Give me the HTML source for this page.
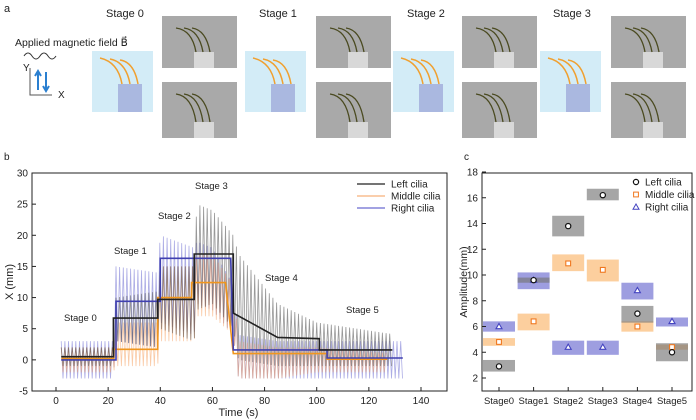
<!DOCTYPE html>
<html><head><meta charset="utf-8"><style>
body{margin:0;background:#fff}
svg{display:block;font-family:"Liberation Sans",sans-serif}
</style></head><body>
<svg id="fig" width="696" height="420" viewBox="0 0 696 420">
<!-- Panel a -->
<g id="pa" font-size="11" fill="#222">
<text x="4" y="12">a</text>
<text x="106" y="17">Stage 0</text>
<text x="259" y="17">Stage 1</text>
<text x="407" y="17">Stage 2</text>
<text x="553" y="17">Stage 3</text>
<text x="15" y="46" font-size="10.5">Applied magnetic field B⃗</text>
<path d="M24,56 q4,-6 8,0 t8,0 t8,0 t8,0" stroke="#333" fill="none"/>
<path d="M30,68 V95 H52" stroke="#555" fill="none"/>
<text x="23" y="71" font-size="10">Y</text><text x="58" y="98" font-size="10">X</text>
<path d="M38,90 V72 M35,76 L38,71 L41,76 M46,72 V90 M43,86 L46,91 L49,86" stroke="#2a7fd0" stroke-width="2" fill="none"/>
</g>
<g id="schem"></g>
<g id="photos"></g>
<!-- Panel b -->
<g font-size="10" fill="#222">
<text x="4" y="160">b</text>
<text x="464" y="160">c</text>
</g>
<g id="pb"></g>
<g id="pc"></g>
</svg>
<script>
const NS="http://www.w3.org/2000/svg";
function mk(p,tag,attrs){const e=document.createElementNS(NS,tag);for(const k in attrs)e.setAttribute(k,attrs[k]);p.appendChild(e);return e;}

// ---------- panel a (illustrative blocks) ----------
const schemX=[92,245,393,540];
const photoX=[162,316,462,611];
const sg=document.getElementById('schem');
schemX.forEach((x,i)=>{
  const r=mk(sg,'rect',{x:x,y:51,width:61,height:61,fill:'#d3ecf7'});
  
  
  mk(sg,'rect',{x:x+26,y:84,width:24,height:28,fill:'#aab8e0'});
  for(let k=0;k<3;k++){mk(sg,'path',{d:`M${x+30+k*8},84 Q${x+26+k*8},62 ${x+8+k*10},${58+k}`,stroke:'#f0a030','stroke-width':1.5,fill:'none'});}
});
const pg=document.getElementById('photos');
photoX.forEach((x,i)=>{
  [16,82].forEach((y,j)=>{
    const r=mk(pg,'rect',{x:x,y:y,width:75,height:j?56:52,fill:'#a9a9a9'});
    
    
    mk(pg,'rect',{x:x+32,y:y+(j?40:36),width:20,height:16,fill:'#d8d8d8'});
    for(let k=0;k<3;k++)mk(pg,'path',{d:`M${x+34+k*7},${y+(j?40:36)} Q${x+30+k*7},${y+14} ${x+14+k*8},${y+12}`,stroke:'#4a4a20','stroke-width':1.3,fill:'none'});
  });
});

// ---------- panel b data ----------
const stepT_left=[2,22,22,39,39,53,53,68,68,85,101,101,129];
const stepY_left=[0.5,0.5,6.7,6.7,9.7,9.7,17,17,7.5,3.6,3.4,1.6,1.6];
const stepT_mid=[2,22,22,39,39,52,52,65,68,104,104,127];
const stepY_mid=[0.2,0.2,1.7,1.7,10,10,12.4,12.4,1,1,0.1,0.1];
const stepT_right=[2,23,23,40,40,67,68,104,104,133];
const stepY_right=[0,0,9.4,9.4,16.3,16.3,1.6,1.6,0.3,0.3];
const envT=[2,22,23,39,40,53,54,60,68,70,85,100,131];
const envUp_left=[2,2,10,11,15,15,25,24,20,17,9,6,4];
const envLo_left=[-1,-1,3,2,5,3,8,9,5,0,-1,-1,-1];
const envUp_mid=[2,2,6,6,15,15,17,17,12,3,2,2,1];
const envLo_mid=[-2,-2,-1,-1,3,3,7,7,4,-3,-3,-2,-2];
const envUp_right=[3,3,15,14,20,18,19,18,12,4,3,3,3];
const envLo_right=[-3,-3,3,2,6,4,9,8,4,-3,-3,-3,-3];
const xTicks=[0,20,40,60,80,100,120,140];
const yTicks=[-5,0,5,10,15,20,25,30];

const bx=t=>56+t*(421-56)/140;
const by=v=>173+(30-v)*(391-173)/35;
function interp(ts,vs,t){for(let i=1;i<ts.length;i++){if(t<=ts[i]){const a=ts[i-1],b=ts[i];return b===a?vs[i]:vs[i-1]+(vs[i]-vs[i-1])*(t-a)/(b-a);}}return vs[vs.length-1];}
const pb=document.getElementById('pb');
mk(pb,'rect',{x:32,y:173,width:415,height:218,fill:'none',stroke:'#222','stroke-width':1});
function osc(up,lo,color,name,t1){
  let d='';let k=0;
  for(let t=2;t<=t1;t+=0.7){const v=(k%2?interp(envT,lo,t):interp(envT,up,t));d+=(k?'L':'M')+bx(t).toFixed(1)+','+by(v).toFixed(1);k++;}
  const p=mk(pb,'path',{d:d,stroke:color,'stroke-width':0.8,fill:'none',opacity:0.55});
  
  
}
osc(envUp_right,envLo_right,'#6a6ad0','right-cilia-raw',133);
osc(envUp_mid,envLo_mid,'#f6a060','middle-cilia-raw',127);
osc(envUp_left,envLo_left,'#444','left-cilia-raw',129);
function step(ts,vs,color,name){
  const d=ts.map((t,i)=>(i?'L':'M')+bx(t).toFixed(1)+','+by(vs[i]).toFixed(1)).join('');
  const p=mk(pb,'path',{d:d,stroke:color,'stroke-width':1.6,fill:'none'});
  
  
}
step(stepT_mid,stepY_mid,'#f0961e','middle-cilia-mean');
step(stepT_right,stepY_right,'#4040b0','right-cilia-mean');
step(stepT_left,stepY_left,'#222','left-cilia-mean');
xTicks.forEach(t=>{mk(pb,'line',{x1:bx(t),x2:bx(t),y1:391,y2:387,stroke:'#222'});
  const tx=mk(pb,'text',{x:bx(t),y:404,'font-size':10,'text-anchor':'middle',fill:'#222'});tx.textContent=t;
  });
yTicks.forEach(v=>{mk(pb,'line',{x1:32,x2:36,y1:by(v),y2:by(v),stroke:'#222'});
  const tx=mk(pb,'text',{x:28,y:by(v)+3.5,'font-size':10,'text-anchor':'end',fill:'#222'});tx.textContent=v;
  });
let t=mk(pb,'text',{x:bx(70),y:416,'font-size':11,'text-anchor':'middle',fill:'#222'});t.textContent='Time (s)';

t=mk(pb,'text',{x:13,y:282,'font-size':11,'text-anchor':'middle',transform:'rotate(-90 13 282)',fill:'#222'});t.textContent='X (mm)';

[['Stage 0',64,321],['Stage 1',114,254],['Stage 2',158,219],['Stage 3',195,189],['Stage 4',265,281],['Stage 5',346,313]].forEach(s=>{
  const e=mk(pb,'text',{x:s[1],y:s[2],'font-size':9.5,fill:'#222'});e.textContent=s[0];
  });
[['Left cilia','#222'],['Middle cilia','#f6b07a'],['Right cilia','#6a6ad0']].forEach((l,i)=>{
  const y=184+i*12;
  mk(pb,'line',{x1:357,x2:385,y1:y,y2:y,stroke:l[1],'stroke-width':1.3});
  const e=mk(pb,'text',{x:391,y:y+3.5,'font-size':10,fill:'#222'});e.textContent=l[0];
  });

// ---------- panel c data ----------
const stages=['Stage0','Stage1','Stage2','Stage3','Stage4','Stage5'];
const leftMean=[2.9,9.6,13.8,16.2,7.0,4.0];
const leftLo=[2.5,9.4,13.0,15.8,6.3,3.3];
const leftHi=[3.4,9.8,14.6,16.7,7.6,4.7];
const midMean=[4.8,6.4,10.9,10.4,6.0,4.4];
const midLo=[4.5,5.7,10.3,9.5,5.6,4.2];
const midHi=[5.1,7.0,11.6,11.2,6.4,4.6];
const rightMean=[6.0,9.6,4.4,4.4,8.8,6.4];
const rightLo=[5.6,8.9,3.8,3.8,8.1,6.0];
const rightHi=[6.4,10.2,4.9,4.9,9.4,6.7];
const cTicks=[2,4,6,8,10,12,14,16,18];
const cx=i=>499+i*34.6;
const cy=v=>172+(18-v)*(378-172)/16;
const pc=document.getElementById('pc');
mk(pc,'rect',{x:482,y:173,width:210,height:218,fill:'none',stroke:'#222','stroke-width':1});
function boxes(lo,hi,color,name){stages.forEach((s,i)=>{
  const r=mk(pc,'rect',{x:cx(i)-16,y:cy(hi[i]),width:32,height:cy(lo[i])-cy(hi[i]),fill:color,opacity:0.65});
  });}
boxes(rightLo,rightHi,'#6a6ad0','right');
boxes(midLo,midHi,'#fbb56a','middle');
boxes(leftLo,leftHi,'#777','left');
function marks(m,type,color,name){stages.forEach((s,i)=>{
  const x=cx(i),y=cy(m[i]);let e;
  if(type==='c')e=mk(pc,'circle',{cx:x,cy:y,r:2.6,fill:'#fff',stroke:color,'stroke-width':1.2});
  else if(type==='s')e=mk(pc,'rect',{x:x-2.4,y:y-2.4,width:4.8,height:4.8,fill:'#fff',stroke:color,'stroke-width':1.1});
  else e=mk(pc,'path',{d:`M${x},${y-3}L${x+3},${y+2.2}L${x-3},${y+2.2}Z`,fill:'#fff',stroke:color,'stroke-width':1.1});
  });}
marks(rightMean,'t','#4444c0','right');
marks(midMean,'s','#f07820','middle');
marks(leftMean,'c','#111','left');
cTicks.forEach(v=>{mk(pc,'line',{x1:482,x2:486,y1:cy(v),y2:cy(v),stroke:'#222'});
  const tx=mk(pc,'text',{x:478,y:cy(v)+3.5,'font-size':10,'text-anchor':'end',fill:'#222'});tx.textContent=v;
  });
stages.forEach((s,i)=>{mk(pc,'line',{x1:cx(i),x2:cx(i),y1:391,y2:387,stroke:'#222'});
  const tx=mk(pc,'text',{x:cx(i),y:404,'font-size':9.5,'text-anchor':'middle',fill:'#222'});tx.textContent=s;
  });
t=mk(pc,'text',{x:467,y:282,'font-size':10.5,'text-anchor':'middle',transform:'rotate(-90 467 282)',fill:'#222'});t.textContent='Amplitude(mm)';

[['Left cilia','c','#111'],['Middle cilia','s','#f07820'],['Right cilia','t','#4444c0']].forEach((l,i)=>{
  const y=182+i*12.5,x=636;
  if(l[1]==='c')mk(pc,'circle',{cx:x,cy:y,r:2.6,fill:'#fff',stroke:l[2],'stroke-width':1.2});
  else if(l[1]==='s')mk(pc,'rect',{x:x-2.4,y:y-2.4,width:4.8,height:4.8,fill:'#fff',stroke:l[2]});
  else mk(pc,'path',{d:`M${x},${y-3}L${x+3},${y+2.2}L${x-3},${y+2.2}Z`,fill:'#fff',stroke:l[2]});
  const e=mk(pc,'text',{x:645,y:y+3.5,'font-size':10,fill:'#222'});e.textContent=l[0];
  });
</script>
</body></html>
